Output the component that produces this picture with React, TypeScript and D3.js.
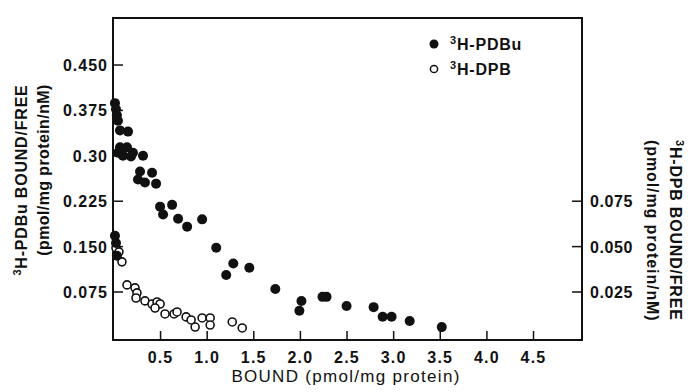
import { useEffect, useRef } from 'react'
import * as d3 from 'd3'

const W = 692
const H = 392

// 3H-PDBu (filled) : bound (pmol/mg protein) vs bound/free, left axis
const pdbuBound = [0.011, 0.022, 0.032, 0.043, 0.065, 0.151, 0.065, 0.14, 0.097, 0.204, 0.312, 0.043, 0.183,
  0.28, 0.409, 0.258, 0.333, 0.452, 0.495, 0.624, 0.527, 0.688, 0.785, 0.946, 1.097, 1.28, 1.204, 1.452,
  1.731, 2.011, 1.989, 2.237, 2.28, 2.495, 2.785, 2.882, 2.978, 3.172, 3.516, 0.011, 0.022, 0.032]
const pdbuRatio = [0.387, 0.377, 0.367, 0.358, 0.342, 0.34, 0.314, 0.314, 0.3, 0.305, 0.3, 0.305, 0.299,
  0.274, 0.272, 0.261, 0.256, 0.254, 0.216, 0.219, 0.203, 0.196, 0.183, 0.195, 0.148, 0.122, 0.103, 0.115,
  0.08, 0.06, 0.044, 0.067, 0.067, 0.052, 0.05, 0.034, 0.034, 0.027, 0.017, 0.168, 0.156, 0.135]

// 3H-DPB (open) : bound vs bound/free, right axis
const dpbBound = [0.022, 0.054, 0.086, 0.14, 0.226, 0.247, 0.237, 0.333, 0.409, 0.462, 0.495, 0.441, 0.548,
  0.645, 0.677, 0.774, 0.828, 0.871, 0.946, 1.032, 1.032, 1.269, 1.376]
const dpbRatio = [0.0493, 0.0471, 0.0416, 0.0289, 0.0273, 0.0245, 0.0217, 0.0201, 0.0184, 0.0195, 0.0184,
  0.0162, 0.0129, 0.0129, 0.014, 0.0113, 0.0096, 0.0057, 0.0107, 0.0107, 0.0068, 0.0085, 0.0052]

const xTicks = [0.5, 1.0, 1.5, 2.0, 2.5, 3.0, 3.5, 4.0, 4.5]
const leftTicks = [0.45, 0.375, 0.3, 0.225, 0.15, 0.075]
const leftTickLabels = ['0.450', '0.375', '0.30', '0.225', '0.150', '0.075']
const rightTicks = [0.075, 0.05, 0.025]
const rightTickLabels = ['0.075', '0.050', '0.025']

const FONT = "'Liberation Sans', Arial, sans-serif"

export default function App() {
  const ref = useRef<SVGSVGElement>(null)

  useEffect(() => {
    if (!ref.current) return
    const svg = d3.select(ref.current)
    svg.selectAll('*').remove()

    const L = 113, R = 582, T = 18, B = 340
    const x = d3.scaleLinear().domain([-0.01, 5.02]).range([L, R])
    const yL = d3.scaleLinear().domain([-0.0043, 0.5277]).range([B, T])
    const yR = d3.scaleLinear().domain([-0.0043 / 3, 0.5277 / 3]).range([B, T])

    svg.append('rect').attr('width', W).attr('height', H).attr('fill', '#fff')

    const txt = (sel: any) => sel
      .attr('font-family', FONT).attr('font-weight', 'bold')
      .attr('font-size', 16).attr('fill', '#111')

    // frame
    svg.append('rect')
      .attr('x', L).attr('y', T).attr('width', R - L).attr('height', B - T)
      .attr('fill', 'none').attr('stroke', '#111').attr('stroke-width', 2)

    // bottom ticks (inward)
    xTicks.forEach(t => {
      svg.append('line')
        .attr('x1', x(t)).attr('x2', x(t)).attr('y1', B).attr('y2', B - 9)
        .attr('stroke', '#111').attr('stroke-width', 1.5)
      svg.append('text').call(txt)
        .attr('x', x(t)).attr('y', 363)
        .attr('text-anchor', 'middle').attr('letter-spacing', 1.2)
        .text(t.toFixed(1))
    })

    // left ticks
    leftTicks.forEach((t, i) => {
      svg.append('line')
        .attr('x1', L).attr('x2', L + 10).attr('y1', yL(t)).attr('y2', yL(t))
        .attr('stroke', '#111').attr('stroke-width', 1.5)
      svg.append('text').call(txt)
        .attr('x', 108).attr('y', yL(t) + 6)
        .attr('text-anchor', 'end').attr('letter-spacing', 1)
        .text(leftTickLabels[i])
    })

    // right ticks
    rightTicks.forEach((t, i) => {
      svg.append('line')
        .attr('x1', R - 10).attr('x2', R).attr('y1', yR(t)).attr('y2', yR(t))
        .attr('stroke', '#111').attr('stroke-width', 1.5)
      svg.append('text').call(txt)
        .attr('x', 590).attr('y', yR(t) + 6)
        .attr('text-anchor', 'start').attr('letter-spacing', 0.6)
        .text(rightTickLabels[i])
    })

    // open circles (3H-DPB)
    svg.append('g').selectAll('circle')
      .data(dpbBound.map((b, i) => [b, dpbRatio[i]]))
      .enter().append('circle')
      .attr('cx', d => x(d[0])).attr('cy', d => yR(d[1])).attr('r', 4)
      .attr('fill', '#fff').attr('stroke', '#111').attr('stroke-width', 1.6)

    // filled circles (3H-PDBu)
    svg.append('g').selectAll('circle')
      .data(pdbuBound.map((b, i) => [b, pdbuRatio[i]]))
      .enter().append('circle')
      .attr('cx', d => x(d[0])).attr('cy', d => yL(d[1])).attr('r', 5)
      .attr('fill', '#111')

    // label with superscript 3
    const supLabel = (g: any, rest: string) => {
      g.append('tspan').attr('font-size', 11).attr('dy', -6).text('3')
      g.append('tspan').attr('dy', 6).text(rest)
    }

    // legend
    svg.append('circle').attr('cx', 434).attr('cy', 44).attr('r', 4.5).attr('fill', '#111')
    svg.append('circle').attr('cx', 434).attr('cy', 69).attr('r', 3.6)
      .attr('fill', '#fff').attr('stroke', '#111').attr('stroke-width', 1.5)
    svg.append('text').call(txt).attr('x', 450).attr('y', 50).attr('letter-spacing', 0.8)
      .call((g: any) => supLabel(g, 'H-PDBu'))
    svg.append('text').call(txt).attr('x', 450).attr('y', 75).attr('letter-spacing', 0.8)
      .call((g: any) => supLabel(g, 'H-DPB'))

    // x title
    svg.append('text').call(txt)
      .attr('x', 346).attr('y', 382).attr('text-anchor', 'middle').attr('letter-spacing', 1.3)
      .attr('font-weight', 'normal').attr('font-size', 17)
      .text('BOUND (pmol/mg protein)')

    // left title
    svg.append('text').call(txt)
      .attr('transform', 'translate(27,180) rotate(-90)')
      .attr('text-anchor', 'middle').attr('letter-spacing', 0.8)
      .call((g: any) => supLabel(g, 'H-PDBu BOUND/FREE'))
    svg.append('text').call(txt)
      .attr('transform', 'translate(49,170) rotate(-90)')
      .attr('text-anchor', 'middle').attr('letter-spacing', 0.4)
      .text('(pmol/mg protein/nM)')

    // right title
    svg.append('text').call(txt)
      .attr('transform', 'translate(670,140) rotate(90)')
      .attr('text-anchor', 'start').attr('letter-spacing', 0.8)
      .call((g: any) => supLabel(g, 'H-DPB BOUND/FREE'))
    svg.append('text').call(txt)
      .attr('transform', 'translate(647,140) rotate(90)')
      .attr('text-anchor', 'start').attr('letter-spacing', 0.9)
      .text('(pmol/mg protein/nM)')
  }, [])

  return <svg ref={ref} width={W} height={H} style={{ position: 'absolute', left: 0, top: 0, display: 'block' }} />
}
